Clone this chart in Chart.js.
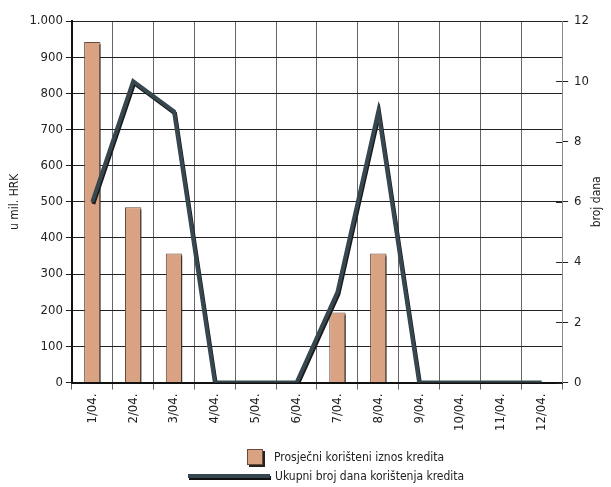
<!DOCTYPE html>
<html>
<head>
<meta charset="utf-8">
<script src="https://cdn.jsdelivr.net/npm/chart.js@4/dist/chart.umd.min.js"></script>
<style>
  html, body { margin: 0; padding: 0; background: #fff; }
  #wrap { position: relative; width: 611px; height: 487px; }
  #legend { position: absolute; left: 188px; top: 447px; font-family: "DejaVu Sans Condensed", sans-serif; font-size: 12px; color: #222; }
  .row { height: 19px; display: flex; align-items: center; }
  .box { width: 14px; height: 14px; background: #d9a282; border: 1px solid #6a4a3a; box-shadow: 2px 2px 0 #222; margin-left: 59px; margin-right: 11px; }
  .ln { width: 82px; height: 4px; background: #37474f; box-shadow: 1px 2px 0 #111; margin-right: 5px; }
</style>
</head>
<body>
<div id="wrap">
  <canvas id="chart" width="611" height="487"></canvas>
  <div id="legend">
    <div class="row"><span class="box"></span><span>Prosječni korišteni iznos kredita</span></div>
    <div class="row"><span class="ln"></span><span>Ukupni broj dana korištenja kredita</span></div>
  </div>
</div>
<script>
const days = ['1/04.', '2/04.', '3/04.', '4/04.', '5/04.', '6/04.', '7/04.', '8/04.', '9/04.', '10/04.', '11/04.', '12/04.'];
const avgAmount = [942, 485, 357, 0, 0, 0, 194, 357, 0, 0, 0, 0];
const totalDays = [6, 10, 9, 0, 0, 0, 3, 9, 0, 0, 0, 0];
const rightTitle = 'broj dana';

const font = "'DejaVu Sans Condensed', sans-serif";
Chart.defaults.font.family = font;
Chart.defaults.color = '#222';

const shadowPlugin = {
  id: 'shadow',
  beforeDatasetDraw(chart, args) {
    const ctx = chart.ctx;
    ctx.save();
    ctx.shadowColor = '#1a1a1a';
    ctx.shadowBlur = 0;
    if (args.index === 0) { ctx.shadowOffsetX = 3; ctx.shadowOffsetY = 2; }
    else { ctx.shadowOffsetX = 1; ctx.shadowOffsetY = 2; }
  },
  afterDatasetDraw(chart) { chart.ctx.restore(); }
};

// inner half of the right-axis ticks and the right title, read bottom to top
const rightAxisExtras = {
  id: 'rightAxisExtras',
  afterDraw(chart) {
    const y1 = chart.scales.y1, ctx = chart.ctx, x = chart.chartArea.right;
    ctx.save();
    ctx.strokeStyle = '#222';
    ctx.lineWidth = 1;
    y1.ticks.forEach(t => {
      const y = Math.round(y1.getPixelForValue(t.value)) + 0.5;
      ctx.beginPath(); ctx.moveTo(x - 6, y); ctx.lineTo(x, y); ctx.stroke();
    });
    ctx.translate(y1.right + 2, (chart.chartArea.top + chart.chartArea.bottom) / 2);
    ctx.rotate(-Math.PI / 2);
    ctx.font = '12px ' + font;
    ctx.fillStyle = '#222';
    ctx.textAlign = 'center';
    ctx.textBaseline = 'middle';
    ctx.fillText(rightTitle, 0, 0);
    ctx.restore();
  }
};

new Chart(document.getElementById('chart'), {
  data: {
    labels: days,
    datasets: [
      {
        type: 'bar',
        label: 'Prosječni korišteni iznos kredita',
        data: avgAmount,
        yAxisID: 'y',
        backgroundColor: '#d9a282',
        borderColor: '#6a4a3a',
        borderWidth: 1,
        barPercentage: 0.4,
        categoryPercentage: 1,
        order: 2
      },
      {
        type: 'line',
        label: 'Ukupni broj dana korištenja kredita',
        data: totalDays,
        yAxisID: 'y1',
        borderColor: '#37474f',
        borderWidth: 4,
        pointRadius: 0,
        tension: 0,
        order: 1
      }
    ]
  },
  options: {
    responsive: false,
    animation: false,
    layout: { padding: { top: 21, right: 16, left: 8, bottom: 52 } },
    plugins: { legend: { display: false }, tooltip: { enabled: false } },
    scales: {
      x: {
        grid: { color: '#666', lineWidth: 1, tickLength: 7, offset: true },
        border: { color: '#111', width: 2 },
        ticks: { maxRotation: 90, minRotation: 90, font: { size: 13 }, padding: 4 }
      },
      y: {
        position: 'left',
        min: 0, max: 1000,
        ticks: { stepSize: 100, font: { size: 13 }, padding: 3,
          callback: v => v >= 1000 ? Math.floor(v / 1000) + '.' + String(v % 1000).padStart(3, '0') : v },
        grid: { color: '#222', lineWidth: 1, tickLength: 6 },
        border: { color: '#111', width: 2 },
        title: { display: true, text: 'u mil. HRK', font: { size: 12 }, padding: { top: 0, bottom: 4 } }
      },
      y1: {
        position: 'right',
        min: 0, max: 12,
        ticks: { stepSize: 2, font: { size: 13 }, padding: 6 },
        grid: { drawOnChartArea: false, color: '#222', tickLength: 6 },
        border: { color: '#888', width: 1 }
      }
    }
  },
  plugins: [shadowPlugin, rightAxisExtras]
});
</script>
</body>
</html>
